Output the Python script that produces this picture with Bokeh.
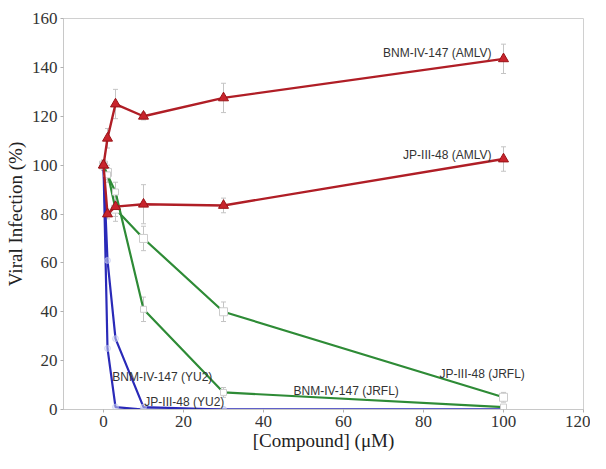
from bokeh.plotting import figure
from bokeh.models import Range1d, FixedTicker, Label
from bokeh.embed import file_html
from bokeh.resources import INLINE

# ---- data ----
conc = [0, 1, 3, 10, 30, 100]

bnm_amlv = [100, 111, 125, 120, 127.5, 143.5]
bnm_amlv_err = [2, 4, 6, 1.5, 6, 6]
jp_amlv = [100, 80, 83, 84, 83.5, 102.5]
jp_amlv_err = [2, 2, 4, 8, 3, 5]

jp_jrfl = [100, 97, 82, 70, 40, 5]
jp_jrfl_err = [2, 3, 5, 5, 4, 2]
bnm_jrfl = [100, 96, 89, 41, 7, 1]
bnm_jrfl_err = [2, 3, 4, 5, 2, 1]

bnm_yu2 = [100, 25, 1, 0, 0, 0]
jp_yu2 = [100, 61, 29, 1, 0, 0]

x_ticks = [0, 20, 40, 60, 80, 100, 120]
y_ticks = [0, 20, 40, 60, 80, 100, 120, 140, 160]

labels = [
    ("BNM-IV-147 (AMLV)", 97, 146, "right"),
    ("JP-III-48 (AMLV)", 97, 104, "right"),
    ("JP-III-48 (JRFL)", 84, 14.5, "left"),
    ("BNM-IV-147 (JRFL)", 47.5, 7.5, "left"),
    ("BNM-IV-147 (YU2)", 2.2, 13.5, "left"),
    ("JP-III-48 (YU2)", 10.2, 3, "left"),
]

RED = "#B01E26"
GREEN = "#2E8B36"
BLUE = "#2A2AB8"
ERR = "#C4C4C4"

p = figure(width=590, height=453, output_backend="svg", toolbar_location=None,
           x_range=Range1d(-10, 120), y_range=Range1d(0, 160),
           min_border_left=63, min_border_top=18, min_border_right=7, min_border_bottom=43)

p.xgrid.visible = False
p.ygrid.visible = False
p.outline_line_color = "#D0D0D0"
p.outline_line_width = 1
p.background_fill_color = "white"
p.border_fill_color = "white"

for ax in (p.xaxis[0], p.yaxis[0]):
    ax.axis_line_color = "#C8C8C8"
    ax.major_tick_line_color = "#B0B0B0"
    ax.major_tick_in = 0
    ax.major_tick_out = 3
    ax.minor_tick_line_color = None
    ax.major_label_text_font = "Liberation Serif"
    ax.major_label_text_font_size = "17px"
    ax.major_label_text_color = "#333333"
    ax.axis_label_text_font = "Liberation Serif"
    ax.axis_label_text_font_size = "19px"
    ax.axis_label_text_font_style = "normal"
    ax.axis_label_text_color = "#222222"

p.xaxis.ticker = FixedTicker(ticks=x_ticks)
p.yaxis.ticker = FixedTicker(ticks=y_ticks)
p.xaxis.axis_label = "[Compound] (μM)"
p.yaxis.axis_label = "Viral Infection (%)"
p.xaxis.major_label_standoff = 3
p.yaxis.major_label_standoff = 3
p.xaxis.axis_label_standoff = 0
p.yaxis.axis_label_standoff = 3


def errbars(y, err):
    lo = [a - b for a, b in zip(y, err)]
    hi = [a + b for a, b in zip(y, err)]
    p.segment(conc, lo, conc, hi, line_color=ERR, line_width=1)
    p.scatter(conc, lo, marker="dash", size=5, line_color=ERR)
    p.scatter(conc, hi, marker="dash", size=5, line_color=ERR)


errbars(bnm_amlv, bnm_amlv_err)
errbars(jp_amlv, jp_amlv_err)
errbars(jp_jrfl, jp_jrfl_err)
errbars(bnm_jrfl, bnm_jrfl_err)

# blue series
for ys in (bnm_yu2, jp_yu2):
    p.line(conc, ys, line_color=BLUE, line_width=2.2)
    p.scatter(conc, ys, marker="circle", size=6, fill_color="#D8DCF6", line_color="#C0C6EE", fill_alpha=0.5, line_alpha=0.6)

# green series
p.line(conc, jp_jrfl, line_color=GREEN, line_width=2.2)
p.scatter(conc, jp_jrfl, marker="square", size=8, fill_color="white", line_color="#CCCCCC")
p.line(conc, bnm_jrfl, line_color=GREEN, line_width=2.2)
p.scatter(conc, bnm_jrfl, marker="square", size=6, fill_color="white", line_color="#CCCCCC")

# red series
for ys in (bnm_amlv, jp_amlv):
    p.line(conc, ys, line_color=RED, line_width=2.4)
    p.scatter(conc, ys, marker="triangle", size=10, fill_color="#C8242C", line_color="#9A1418")

for txt, x, y, align in labels:
    p.add_layout(Label(x=x, y=y, text=txt, text_align=align, text_baseline="middle",
                       text_font="Liberation Sans", text_font_size="12px",
                       text_color="#333333"))

open("out.html", "w").write(file_html(p, INLINE))
